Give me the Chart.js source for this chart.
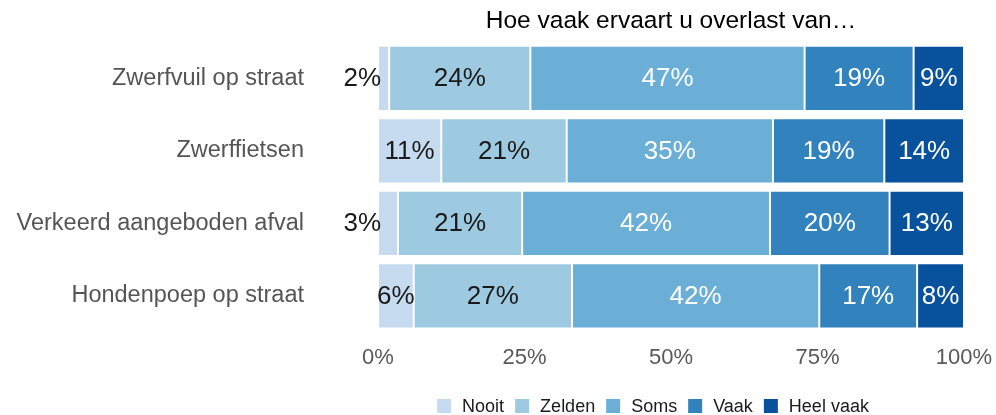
<!DOCTYPE html>
<html>
<head>
<meta charset="utf-8">
<script src="https://cdn.jsdelivr.net/npm/chart.js@4/dist/chart.umd.min.js"></script>
<style>
  html, body { margin: 0; padding: 0; background: #ffffff; }
  #wrap { width: 996px; height: 415px; }
</style>
</head>
<body>
<div id="wrap"><canvas id="c" width="996" height="415"></canvas></div>
<script>
const titleText = "Hoe vaak ervaart u overlast van…";
const categories = ["Zwerfvuil op straat", "Zwerffietsen", "Verkeerd aangeboden afval", "Hondenpoep op straat"];
const seriesNames = ["Nooit", "Zelden", "Soms", "Vaak", "Heel vaak"];
const nooit    = [1.9, 10.8, 3.4, 6.1];
const zelden   = [24.1, 21.4, 21.2, 27.0];
const soms     = [46.8, 35.2, 42.3, 42.2];
const vaak     = [18.6, 19.0, 20.4, 16.7];
const heelVaak = [8.6, 13.6, 12.7, 8.0];
const xTicks = [0, 25, 50, 75, 100];

const colors = ["#c6dbef", "#9ecae1", "#6baed6", "#3182bd", "#08519c"];
const labelColors = ["#1a1a1a", "#1a1a1a", "#ffffff", "#ffffff", "#ffffff"];
const seriesValues = [nooit, zelden, soms, vaak, heelVaak];
const FONT = "'Liberation Sans', Arial, sans-serif";

const datasets = seriesNames.map((name, i) => ({
  label: name,
  data: seriesValues[i],
  backgroundColor: colors[i],
  borderColor: "rgba(255,255,255,0.85)",
  borderWidth: 1,
  borderSkipped: false,
  categoryPercentage: 1.0,
  barPercentage: 0.9
}));

const labelPlugin = {
  id: "barLabels",
  afterDatasetsDraw(chart) {
    const ctx = chart.ctx;
    ctx.save();
    ctx.font = "26px " + FONT;
    ctx.textBaseline = "middle";
    chart.data.datasets.forEach((ds, di) => {
      const meta = chart.getDatasetMeta(di);
      meta.data.forEach((el, j) => {
        const v = ds.data[j];
        const txt = Math.round(v) + "%";
        const left = Math.min(el.x, el.base);
        const right = Math.max(el.x, el.base);
        if (v < 5) {
          ctx.fillStyle = "#1a1a1a";
          ctx.textAlign = "right";
          ctx.fillText(txt, left + 3, el.y + 1);
        } else {
          ctx.fillStyle = labelColors[di];
          ctx.textAlign = "center";
          ctx.fillText(txt, (left + right) / 2, el.y + 1);
        }
      });
    });
    ctx.restore();
  }
};

const titleLegendPlugin = {
  id: "titleLegend",
  afterDraw(chart) {
    const ctx = chart.ctx;
    const area = chart.chartArea;
    ctx.save();
    ctx.font = "24.5px " + FONT;
    ctx.fillStyle = "#000000";
    ctx.textAlign = "center";
    ctx.textBaseline = "middle";
    ctx.fillText(titleText, (area.left + area.right) / 2, 21);
    ctx.font = "18px " + FONT;
    const box = 14, gapText = 11, gapItem = 11;
    const widths = seriesNames.map(n => box + gapText + ctx.measureText(n).width);
    const total = widths.reduce((a, b) => a + b, 0) + gapItem * (seriesNames.length - 1);
    let x = 653 - total / 2;
    const yc = 406;
    ctx.textAlign = "left";
    seriesNames.forEach((n, i) => {
      ctx.fillStyle = colors[i];
      ctx.fillRect(x, yc - box / 2, box, box);
      ctx.fillStyle = "#1a1a1a";
      ctx.fillText(n, x + box + gapText, yc + 1);
      x += widths[i] + gapItem;
    });
    ctx.restore();
  }
};

new Chart(document.getElementById("c"), {
  type: "bar",
  data: { labels: categories, datasets: datasets },
  options: {
    indexAxis: "y",
    responsive: false,
    animation: false,
    devicePixelRatio: 1,
    layout: { padding: { left: 0, right: 32, top: 42, bottom: 0 } },
    plugins: {
      legend: { display: false },
      title: { display: false },
      tooltip: { enabled: false }
    },
    scales: {
      x: {
        stacked: true,
        min: 0,
        max: 100,
        afterBuildTicks(axis) { axis.ticks = xTicks.map(v => ({ value: v })); },
        afterFit(axis) {
          axis.height = 83;
          axis.paddingLeft = 0; axis.paddingRight = 0;
          axis.paddingTop = 0; axis.paddingBottom = 0;
        },
        grid: { display: false, drawTicks: false },
        border: { display: false },
        ticks: {
          padding: 13,
          color: "#595959",
          font: { family: FONT, size: 22 },
          callback: v => v + "%"
        }
      },
      y: {
        stacked: true,
        afterFit(axis) {
          axis.width = 378;
          axis.paddingTop = 0; axis.paddingBottom = 0;
          axis.paddingLeft = 0; axis.paddingRight = 0;
        },
        grid: { display: false, drawTicks: false },
        border: { display: false },
        ticks: {
          padding: 74,
          color: "#555555",
          font: { family: FONT, size: 23.5 }
        }
      }
    }
  },
  plugins: [labelPlugin, titleLegendPlugin]
});
</script>
</body>
</html>
